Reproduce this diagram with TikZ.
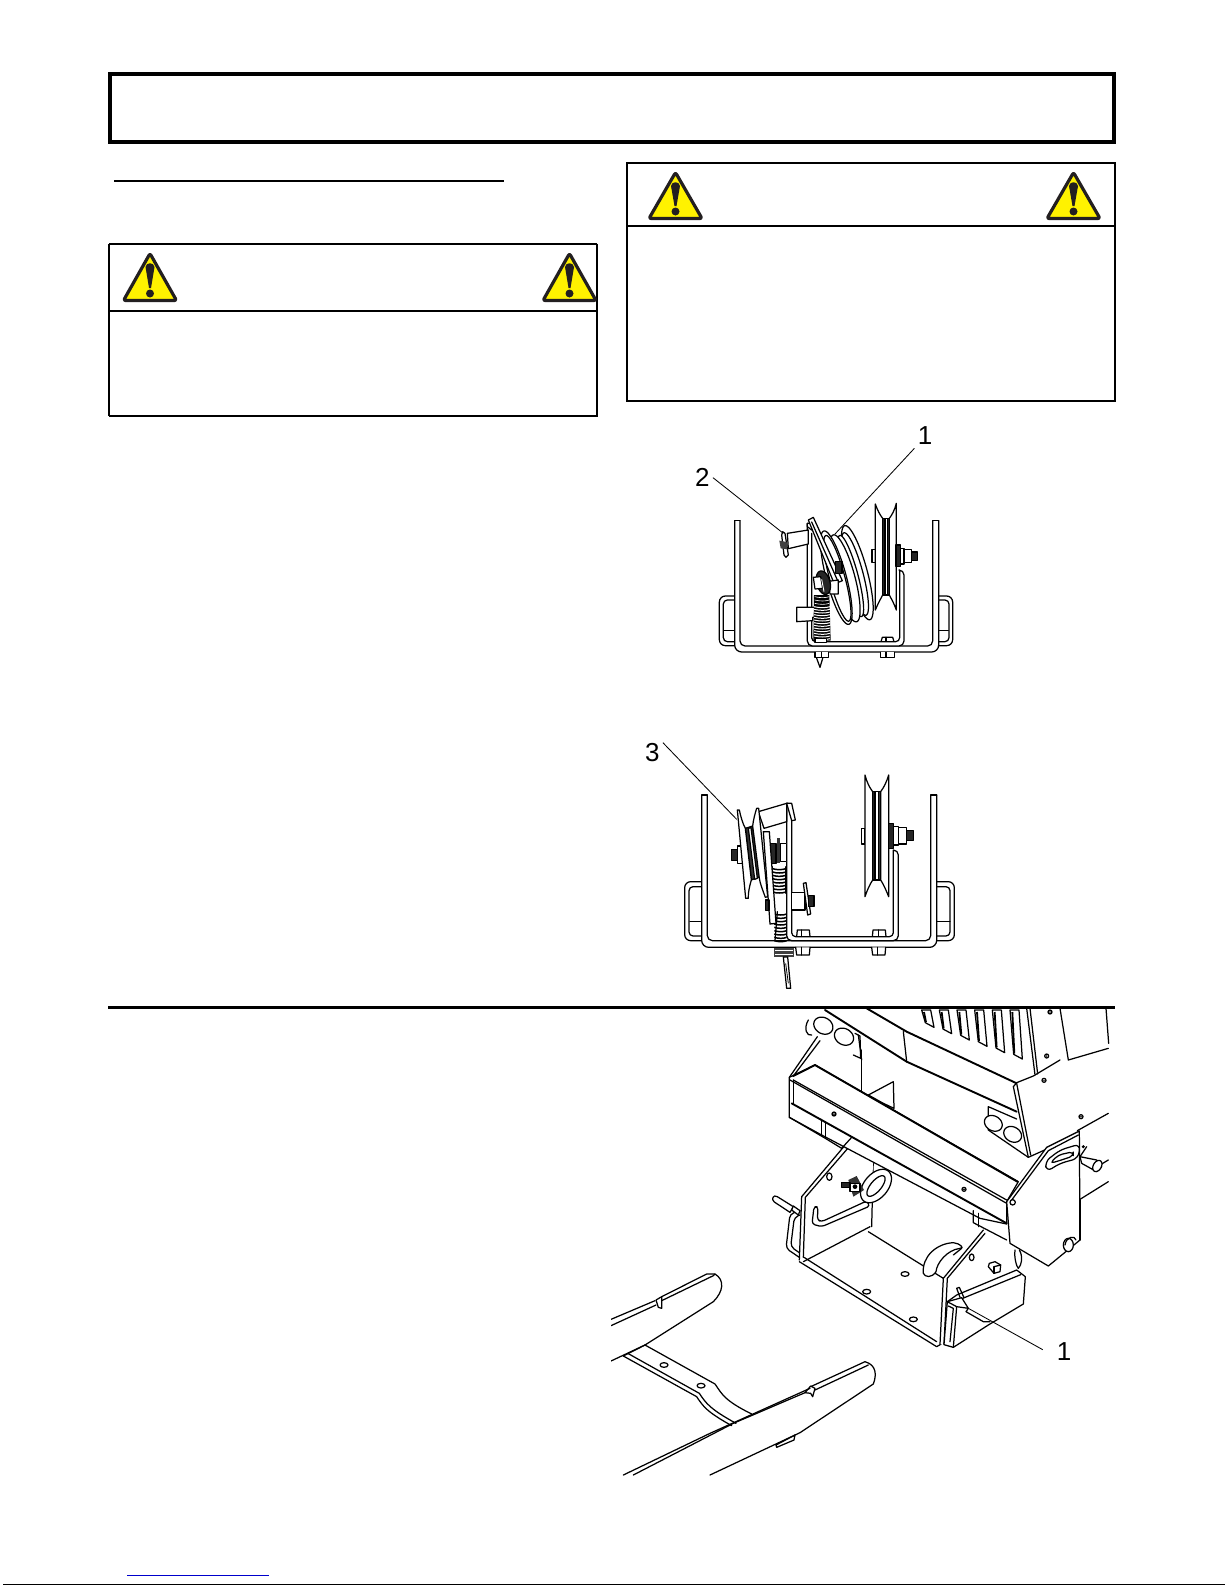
\documentclass[tikz,border=0pt]{standalone}
\usepackage{fontspec}
\setmainfont{Liberation Sans}
\definecolor{warnink}{HTML}{231F20}
\tikzset{
 ln/.style={line width=.62pt,line join=round,line cap=round,draw=black},
 hv/.style={line width=.95pt,line join=round,line cap=round,draw=black},
 wf/.style={ln,fill=white},
 dk/.style={ln,fill=black!85},
 tag/.style={font=\fontsize{13}{13}\selectfont,inner sep=1.5pt,text=black},
 leader/.style={line width=.42pt,draw=black},
 warnbox/.style={draw=black,fill=white,line width=1pt}
}
\newcommand{\warnsign}[3]{% cx, top, bottom
 \draw[draw=warnink,fill=yellow,line width=1.6pt,line join=round,rounded corners=1pt]
   (#1,#2+1.5) -- (#1+26.5,#3-2.5) -- (#1-26.5,#3-2.5) -- cycle;
 \fill[warnink] (#1-4.5,#2+15) .. controls (#1-4,#2+10) and (#1+4,#2+10) .. (#1+4.5,#2+15) -- (#1+1,#3-15) -- (#1-1,#3-15) -- cycle;
 \fill[warnink] (#1,#3-9.5) circle[radius=4];
}
\newcommand{\tilt}[6][wf]{% style, cx, cy, a, b, ang
 \draw[#1] plot[domain=0:360,samples=60,smooth cycle] ({#2+#4*cos(\x)*cos(#6)-#5*sin(\x)*sin(#6)},{#3+#4*cos(\x)*sin(#6)+#5*sin(\x)*cos(#6)});
}
\begin{document}
\begin{tikzpicture}[x=.5pt,y=-.5pt]
\useasboundingbox (0,0) rectangle (1225,1585);
\fill[white] (0,0) rectangle (1225,1585);
% page frame items
\draw[line width=2pt,draw=black] (110,74) rectangle (1114,142);
\draw[line width=1pt] (114,181) -- (504,181);
\draw[line width=1pt] (109,244) -- (597,244);
\draw[line width=1pt] (109,244) -- (109,416);
\draw[line width=1.3pt] (108.5,416) -- (596,416);
\draw[line width=1.4pt] (597,243.5) -- (597,417);
\draw[line width=1pt] (109,310.7) -- (596,310.7);
\warnsign{150}{252}{303}
\warnsign{569.5}{252}{303}
\draw[warnbox] (627,163) rectangle (1115,400.7);
\draw[line width=1pt] (627,226) -- (1115,226);
\warnsign{675.5}{171}{221}
\warnsign{1073.5}{171}{221}
\draw[line width=1.2pt] (108,1007.3) -- (1115,1007.3);
\draw[line width=.5pt,draw=blue!80!black] (127,1575.3) -- (269,1575.3);
\draw[line width=.9pt] (3,1584.5) -- (1225,1584.5);

% ---------- figure 1 ----------
\begin{scope}[shift={(600,420)},scale=1/3]
\draw[ln,rounded corners=3pt] (404,528)--(358,528)--(358,677)--(404,677);
\draw[ln,rounded corners=2pt] (404,540)--(370,540)--(370,665)--(404,665);
\draw[ln] (372,632)--(404,632);
\draw[ln,rounded corners=3pt] (1016,528)--(1058,528)--(1058,677)--(1016,677);
\draw[ln,rounded corners=2pt] (1016,540)--(1047,540)--(1047,665)--(1016,665);
\draw[ln] (1016,632)--(1045,632);
\draw[wf,rounded corners=3.5pt] (404,302)--(404,696)--(1016,696)--(1016,302);
\draw[ln] (404,302)--(420,302); \draw[ln] (998,302)--(1016,302);
\draw[ln,rounded corners=2.5pt] (420,302)--(420,678)--(998,678)--(998,302);
% lower nuts
\draw[wf] (645,697)--(645,712)--(685,712)--(685,697);\draw[ln] (665,697)--(665,712);
\draw[wf] (842,697)--(842,712)--(884,712)--(884,697);\draw[ln] (858,697)--(858,712);
\draw[ln] (650,715)--(660,742)--(668,715);
\draw[wf] (843,665)--(847,652)--(878,652)--(882,665);
\draw[ln] (858,652)--(858,665);
% right pulley
\draw[wf] (816,388) rectangle (826,428);
\draw[fill=black!80,ln] (848,295)--(868,295)--(868,525)--(848,525)--cycle;
\draw[wf] (855,295) rectangle (862,525);
\draw[wf] (826,252) .. controls (832,270) and (840,285) .. (848,295) -- (848,525) .. controls (840,540) and (832,555) .. (826,570) -- cycle;
\draw[wf] (889,250) .. controls (884,270) and (876,285) .. (868,295) -- (868,525) .. controls (876,540) and (884,555) .. (889,570) -- cycle;
% inner U
\draw[wf] (622,310) [rounded corners=2.5pt] --(622,678)--(912,678) -- (912,450) [sharp corners] --(899,450) [rounded corners=2pt] --(899,665)--(635,665) -- (635,340);
\draw[wf] (622,310)--(622,320)--(635,330)--(635,310)--cycle;
\draw[dk] (888,375) rectangle (901,440);
\draw[wf] (901,385) rectangle (912,432);
\draw[wf] (912,388) rectangle (935,428);
\draw[dk] (935,396) rectangle (952,422);
% tab
\draw[wf] (590,562)--(670,562)--(670,592)--(638,592)--(638,602)--(590,605)--cycle;
% spring
\fill[black] (642,525) -- (688,525) -- (692,662) -- (640,662) -- cycle;
\foreach \y in {560,568,...,656}{\draw[line width=.5pt,white] (642,\y) .. controls (660,\y+4) and (676,\y+4) .. (690,\y);}
\foreach \y in {530,540,550}{\draw[line width=.3pt,white] (644,\y) .. controls (660,\y+4) and (676,\y+4) .. (688,\y);}
\draw[wf] (645,655) rectangle (680,668);
% pin
\draw[wf] (562,340)--(625,330)--(625,372)--(565,386)--cycle;
\draw[ln] (548,335)--(545,345)--(552,405)--(558,412)--(565,405)--(555,340)--cycle;
\fill[black!75] (538,362)--(560,366)--(562,388)--(542,385)--cycle;
% tilted sheave
\tilt{772}{458}{146}{30}{75}
\tilt{765}{462}{128}{24}{75}
\tilt{752}{468}{126}{22}{75}
\tilt{735}{475}{135}{30}{75}
\tilt{709}{473}{145}{30}{75}
\tilt{712}{475}{133}{23}{75}
% plate
\draw[wf] (625,300)--(640,292)--(727,482)--(703,492)--cycle;
\draw[ln] (635,306)--(712,480);
\draw[dk] (706,425) rectangle (726,460);
\draw[wf] (685,484)--(715,480)--(715,522)--(690,522)--cycle;
\tilt[dk]{670}{488}{36}{20}{75}
\draw[wf] (640,472)--(662,470)--(668,505)--(645,507)--cycle;
\draw[line width=.45pt,white] (665,478)--(672,515);
\node[tag] (fa1) at (975,48) {1};
\node[tag] (fa2) at (307,173) {2};
\coordinate (fa1p) at (705,342);
\coordinate (fa2p) at (550,340);
\draw[leader] (fa1.south west) -- (fa1p);
\draw[leader] (fa2.east) -- (fa2p);
\end{scope}

% ---------- figure 2 ----------
\begin{scope}[shift={(620,730)},scale=1/3]
\draw[ln,rounded corners=3pt] (245,455)--(194,455)--(194,632)--(245,632);
\draw[ln,rounded corners=2pt] (245,470)--(207,470)--(207,618)--(245,618);
\draw[ln] (210,575)--(245,575);
\draw[ln,rounded corners=3pt] (950,455)--(1003,455)--(1003,632)--(950,632);
\draw[ln,rounded corners=2pt] (950,470)--(990,470)--(990,618)--(950,618);
\draw[ln] (950,575)--(990,575);
\draw[wf,rounded corners=3.5pt] (245,195)--(245,652)--(950,652)--(950,195);
\draw[ln] (245,195)--(262,195); \draw[ln] (932,195)--(950,195);
\draw[ln,rounded corners=2.5pt] (262,195)--(262,632)--(932,632)--(932,195);
% nuts
\draw[wf] (527,652)--(530,675)--(568,675)--(570,652);\draw[ln] (545,652)--(545,675);
\draw[wf] (755,652)--(758,675)--(795,675)--(797,652);\draw[ln] (772,652)--(772,675);
\draw[wf] (530,620)--(532,600)--(568,600)--(570,620);\draw[ln] (545,600)--(545,620);
\draw[wf] (757,620)--(759,600)--(796,600)--(798,620);\draw[ln] (775,600)--(775,620);
% right pulley
\draw[wf] (725,295) rectangle (735,342);
\draw[fill=black!80,ln] (758,185) rectangle (782,450);
\draw[wf] (765,185) rectangle (775,450);
\draw[wf] (735,135) .. controls (740,155) and (748,172) .. (758,185) -- (758,450) .. controls (748,465) and (740,485) .. (735,500) -- cycle;
\draw[wf] (806,135) .. controls (800,155) and (792,172) .. (782,185) -- (782,450) .. controls (792,465) and (800,485) .. (806,500) -- cycle;
% inner U
\draw[wf] (500,220) [rounded corners=2.5pt] --(500,632)--(835,632)--(835,360) [sharp corners] --(820,360) [rounded corners=2pt] --(820,620)--(515,620)--(515,220) [sharp corners] --cycle;
\draw[dk] (805,280) rectangle (820,355);
\draw[wf] (820,290) rectangle (835,345);
\draw[wf] (835,292) rectangle (860,342);
\draw[dk] (860,302) rectangle (880,332);
% pin
\draw[wf] (515,487)--(555,487)--(555,540)--(515,540)--cycle;
\draw[ln,fill=white] (550,460)--(558,458)--(572,552)--(563,555)--cycle;
\draw[dk] (565,497) rectangle (582,530);
% arm
\draw[wf] (415,245)--(500,220)--(500,275)--(432,295)--cycle;
\draw[wf] (500,220)--(515,220)--(526,270)--(515,272)--cycle;
% spring
\fill[white] (458,410) rectangle (500,490);
\foreach \y in {416,426,...,486}{\draw[line width=.75pt] (458,\y) .. controls (470,\y+4) and (485,\y+4) .. (498,\y);}
\draw[ln] (458,410)--(458,490);\draw[ln] (498,410)--(498,490);
\foreach \y in {552,562,...,632}{\draw[line width=.75pt] (463,\y) .. controls (475,\y+4) and (490,\y+4) .. (500,\y);}
\draw[ln] (472,545)--(465,632);
\fill[black!75] (463,655) rectangle (521,682);
\foreach \y in {662,672}{\draw[line width=.4pt,white] (465,\y)--(520,\y);}
\draw[wf] (490,681)--(503,681)--(512,775)--(500,775)--cycle;
\draw[line width=.4pt] (497,700)--(505,760);
% hub
\fill[black!80] (470,325) rectangle (480,400);
\draw[wf] (482,340) rectangle (500,395);
\draw[dk] (452,340) rectangle (468,400);
% pulley left
\draw[dk] (335,358) rectangle (353,392);
\draw[wf] (353,348) rectangle (367,400);
\draw[fill=black!80,ln] (376,295)--(398,288)--(420,440)--(394,450)--cycle;
\draw[wf] (385,295)--(393,293)--(412,445)--(404,448)--cycle;
\draw[wf] (352,240)--(358,240) .. controls (362,260) and (368,280) .. (376,295) -- (394,450) .. controls (388,470) and (384,490) .. (385,505) -- (377,505)--cycle;
\draw[wf] (410,235)--(416,235)--(443,500)--(436,502) .. controls (428,480) and (420,460) .. (418,445) -- (398,288) .. controls (400,270) and (405,250) .. (410,235) -- cycle;
\draw[wf] (430,305)--(448,305)--(468,580)--(450,582)--cycle;
\draw[dk] (437,510) rectangle (447,542);
\node[tag] (fb3) at (97,68) {3};
\coordinate (fb3p) at (350,268);
\draw[leader] (fb3.north east) ++(0,8) -- (fb3p);
\end{scope}

% ---------- figure 3 : machine ----------
\begin{scope}[shift={(740,1000)},scale=1/3]
\clip (0,25) rectangle (1110,1100);
% top housing
\draw[ln] (960,25)--(985,180)--(1105,145);
\draw[ln] (1098,25)--(1106,130);
\draw[ln] (860,25)--(885,225);
\draw[ln] (870,25)--(893,222);
\foreach \a in {0,1,2,3,4,5}{
 \draw[ln,fill=white] (545+\a*53,30)--(572+\a*53,30)--(582+\a*53,82+\a*19)--(556+\a*53,68+\a*19)--cycle;
 \draw[line width=.9pt] (552+\a*53,36)--(558+\a*53,66+\a*19);
}
\draw[hv] (380,25)--(500,95)--(830,250);
\draw[ln] (490,95)--(500,185);
\draw[hv] (255,30)--(500,185)--(830,335);
\draw[ln] (355,105)--(365,180);
\draw[ln] (365,150)--(365,280);
\draw[wf] (385,285)--(460,245)--(462,325)--(430,310)--cycle;
\draw[ln,fill=white] (820,260)--(830,248)--(880,228)--(960,180);
\draw[ln,fill=white] (820,260)--(865,472)--(925,445);
\draw[ln] (830,250)--(872,465);
\foreach \p in {(930,36),(920,168),(912,241),(1023,350)}{\draw[ln] \p circle[radius=6];\fill \p circle[radius=2.5];}
\draw[ln] (1105,340)--(1012,392);
\draw[ln] (1105,480)--(1075,498);
\draw[ln] (1105,545)--(1020,598);
\draw[ln] (1040,440)--(1020,470);
% bolts
\draw[wf] (205,60) .. controls (190,85) and (200,110) .. (215,105);
\tilt{250}{77}{30}{24}{30}
\tilt{312}{110}{30}{24}{30}
\draw[ln] (745,320)--(745,390)--(865,472);
\draw[ln] (745,320)--(830,357);
\tilt{760}{370}{28}{22}{30}
\tilt{818}{403}{28}{22}{30}
\draw[ln] (345,100)--(360,108)--(362,175)--(340,165);
% lower bracket : floor fill and rear wall
\fill[white] (390,690)--(610,825)--(735,690)--(760,640)--(405,465)--cycle;
\draw[ln] (400,470)--(395,680);
\draw[ln] (385,695)--(610,835);
\draw[wf] (345,425) .. controls (335,460) and (360,480) .. (405,455) -- (375,420) -- cycle;
\draw[ln] (362,425)--(365,465); \draw[ln] (380,430)--(385,465);
% rear loops and pin
\draw[ln,rounded corners=2pt] (180,632)--(150,642)--(138,745)--(178,772);
\draw[ln,rounded corners=2pt] (180,645)--(163,652)--(152,740)--(178,758);
\draw[wf] (150,637)--(103,606) .. controls (92,598) and (100,582) .. (112,590) -- (160,620) -- cycle;
\draw[wf] (155,630)--(160,618)--(180,632)--(175,645)--cycle;
% left plate
\fill[white] (335,412)--(185,590)--(178,780)--(195,792)--(390,690)--(400,470)--cycle;
\draw[ln] (335,412)--(185,590)--(178,780);
\draw[ln] (345,420)--(196,592)--(190,772);
\draw[ln] (178,785)--(590,1040)--(604,1032);
\draw[ln] (192,772)--(590,1025);
\draw[ln] (190,785)--(390,680);
\draw[wf] (268,530) ellipse[x radius=8,y radius=11];
% handle
\draw[wf,rounded corners=1.5pt] (222,620)--(216,672)--(245,680)--(390,618)--(380,603)--(245,665)--(232,660)--(234,620)--cycle;
% oval clip
\tilt{408}{558}{58}{36}{-50}
\tilt{408}{558}{38}{16}{-50}
\fill[black!80] (325,540)--(350,528)--(372,570)--(340,590)--cycle;
\draw[wf] (330,550) rectangle (360,575);
\draw[dk] (305,548) rectangle (330,562);
\fill[black] (345,560) circle[radius=7];
% floor holes
\foreach \p in {(495,822),(380,875),(520,958)}{\draw[wf] \p ellipse[x radius=12,y radius=7];}
% hook
\draw[wf] (550,820) .. controls (545,770) and (590,730) .. (640,728) .. controls (660,730) and (675,745) .. (660,745) .. controls (620,750) and (590,790) .. (588,815) .. controls (575,835) and (555,832) .. (550,820) -- cycle;
\draw[ln] (640,765)--(665,745);
% right plate
\fill[white] (730,690)--(610,835)--(600,1032)--(640,1042)--(660,880)--(830,805)--(835,750)--(790,680)--cycle;
\draw[ln] (730,690)--(610,835)--(600,1032);
\draw[ln] (735,700)--(622,835)--(612,1032);
\draw[wf] (695,772) ellipse[x radius=7,y radius=10];
\draw[ln] (825,750) .. controls (822,775) and (830,800) .. (835,805);
\draw[ln] (838,750) .. controls (850,770) and (845,795) .. (835,805);
% bolt
\draw[wf] (745,800)--(748,790)--(765,785)--(782,795)--(780,815)--(762,820)--cycle;
\draw[ln] (762,800)--(782,795);\draw[ln] (762,800)--(762,820);
% front block
\draw[wf] (650,885)--(830,810)--(856,830)--(850,912)--(745,975)--(640,1042)--(612,1034)--(622,905)--cycle;
\draw[ln] (668,895)--(842,824);
\draw[ln] (640,1042)--(650,920)--(622,905);
\draw[ln] (625,918)--(640,925)--(630,1025);
\draw[ln] (622,905)--(665,893)--(685,925)--(650,920);
\draw[ln] (650,865)--(660,892);\draw[ln] (650,865)--(658,862)--(672,893);
\draw[ln] (685,925)--(678,935)--(730,965)--(750,965);
% beam
\draw[wf] (148,232)--(225,195)--(835,545)--(800,605)--(800,672)--(720,655)--(245,405)--(148,352)--cycle;
\draw[ln] (232,110)--(148,232);
\draw[ln] (240,122)--(160,228);
\draw[ln] (160,240)--(800,600);
\draw[ln] (150,240)--(800,610);
\draw[hv] (160,228)--(225,195)--(832,545);
\draw[hv] (155,310)--(800,670);
\draw[ln] (160,240)--(160,312);
\draw[ln] (245,358)--(245,405);\draw[ln] (256,365)--(256,415);
\draw[ln] (148,352)--(256,415)--(305,445)--(335,412);
\draw[ln] (700,632)--(700,668)--(800,720);
\draw[ln] (716,640)--(716,680);
\fill (282,342) circle[radius=3];\draw[ln] (282,342) circle[radius=6];
\fill (672,568) circle[radius=3];\draw[ln] (672,568) circle[radius=6];
% end plate
\draw[wf] (800,605)--(920,442)--(1018,393)--(1020,720)--(925,798)--(810,730)--cycle;
\draw[ln] (815,600)--(925,452)--(1015,405);
\draw[wf] (818,607) circle[radius=8];
\draw[wf] (985,735) ellipse[x radius=15,y radius=20];
\draw[ln] (975,735) .. controls (978,710) and (1005,705) .. (1008,720);
\draw[ln] (1020,720)--(1020,600);
% clip and pin
\draw[wf] (1020,470)--(1070,480)--(1085,500)--(1070,515)--(1025,490)--cycle;
\tilt{1072}{498}{18}{12}{-60}
\draw[wf,rounded corners=3pt] (1020,432)--(960,450)--(915,485)--(920,515)--(960,490)--(1015,475)--cycle;
\draw[wf,rounded corners=2pt] (1000,455)--(955,465)--(930,490)--(955,483)--(1000,468)--cycle;
\fill (1030,440) circle[radius=5];
\node[tag] (fc1) at (972,1055) {1};
\coordinate (fc1p) at (685,925);
\draw[leader] (fc1.west) ++(-32,-6) -- (fc1p);
\end{scope}

% ---------- figure 4 : frame ----------
\begin{scope}[shift={(600,1260)},scale=1/3]
\clip (33,0) rectangle (900,645);
\draw[ln,rounded corners=2pt] (33,178)--(165,122);
\draw[ln,rounded corners=2pt] (33,197)--(168,135);
\draw[ln] (168,120)--(185,110)--(185,145)--(175,142)--(168,120);
\draw[ln] (185,110)--(320,42)--(345,42) .. controls (375,60) and (370,95) .. (340,125) -- (135,255) -- (33,303);
\draw[ln] (185,122)--(340,47)--(345,42);
\draw[ln] (135,255)--(345,372) .. controls (365,400) and (370,420) .. (455,462);
\draw[ln] (70,288)--(290,410) .. controls (310,440) and (320,455) .. (395,497);
\draw[ln] (70,288)--(135,255);
\draw[ln] (85,281)--(298,400) .. controls (318,430) and (330,447) .. (408,490);
\draw[ln] (192,315) ellipse[x radius=12,y radius=7];
\draw[ln] (303,377) ellipse[x radius=12,y radius=7];
\draw[ln] (70,645)--(330,520)--(630,385);
\draw[ln] (100,645)--(400,490)--(615,398);
\draw[ln] (615,398)--(632,378)--(645,385)--(638,410)--(632,400)--(615,398);
\draw[ln] (632,380)--(795,305) .. controls (830,315) and (830,345) .. (820,372) -- (600,518) -- (330,645);
\draw[ln] (645,390)--(805,315);
\draw[ln] (528,555)--(585,525)--(582,540)--(530,562)--cycle;
\end{scope}
\end{tikzpicture}
\end{document}
